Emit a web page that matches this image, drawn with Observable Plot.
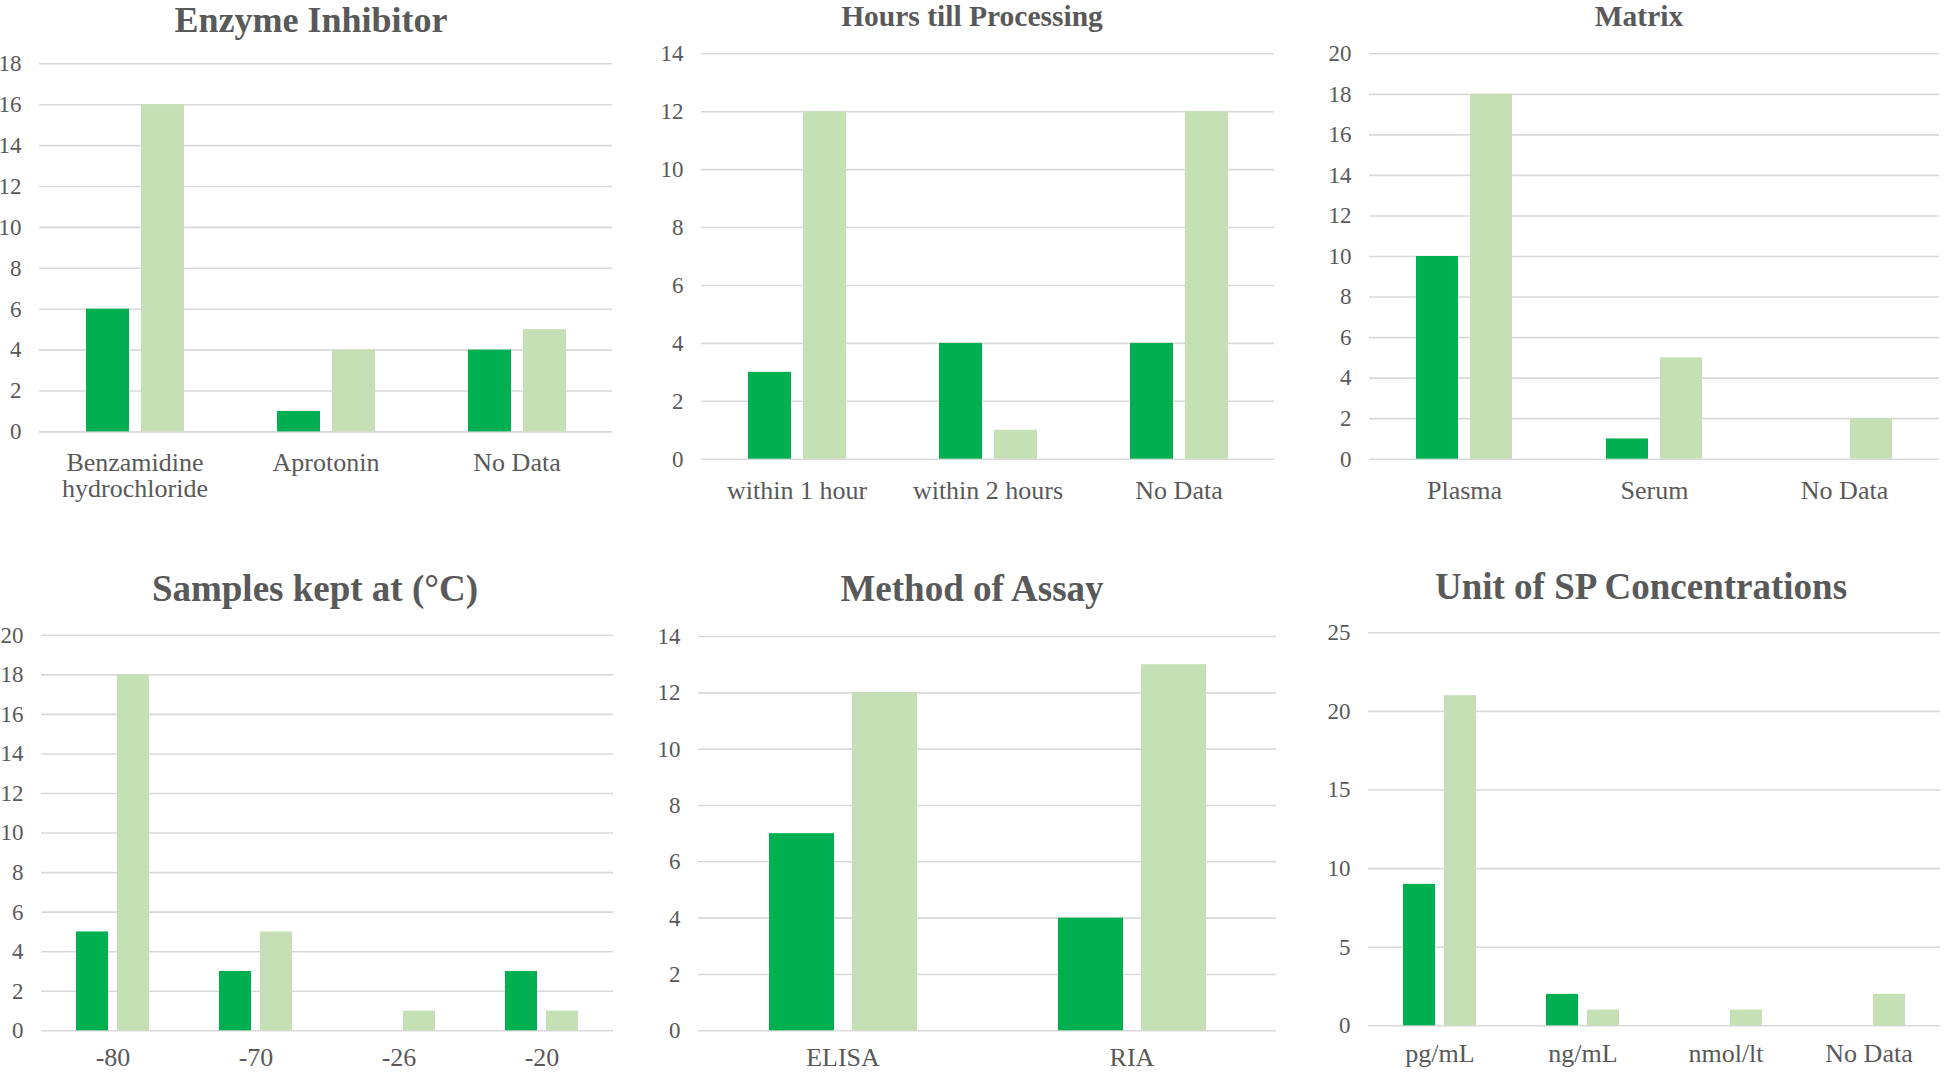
<!DOCTYPE html>
<html>
<head>
<meta charset="utf-8">
<script src="https://cdn.jsdelivr.net/npm/d3@7"></script>
<script src="https://cdn.jsdelivr.net/npm/@observablehq/plot@0.6"></script>
<style>
  html, body { margin: 0; padding: 0; background: #ffffff; }
  #root { position: relative; width: 1944px; height: 1072px; overflow: hidden; background: #ffffff; }
  .panel { position: absolute; }
  .panel svg text { font-family: "Liberation Serif", "Times New Roman", serif; }
  .title { position: absolute; width: 700px; text-align: center; font-family: "Liberation Serif", "Times New Roman", serif; font-weight: bold; color: #595959; white-space: nowrap; }
</style>
</head>
<body>
<div id="root"></div>
<script>
// ---------- Data ----------
const seriesNames = ["Series 1", "Series 2"];
const seriesColors = ["#00B050", "#C5E0B4"];

const enzymeCategories = ["Benzamidine hydrochloride", "Aprotonin", "No Data"];
const enzymeTickLabels = ["Benzamidine\nhydrochloride", "Aprotonin", "No Data"];
const enzymeSeries1 = [6, 1, 4];
const enzymeSeries2 = [16, 4, 5];
const enzymeTicks = [0, 2, 4, 6, 8, 10, 12, 14, 16, 18];

const hoursCategories = ["within 1 hour", "within 2 hours", "No Data"];
const hoursSeries1 = [3, 4, 4];
const hoursSeries2 = [12, 1, 12];
const hoursTicks = [0, 2, 4, 6, 8, 10, 12, 14];

const matrixCategories = ["Plasma", "Serum", "No Data"];
const matrixSeries1 = [10, 1, 0];
const matrixSeries2 = [18, 5, 2];
const matrixTicks = [0, 2, 4, 6, 8, 10, 12, 14, 16, 18, 20];

const tempCategories = ["-80", "-70", "-26", "-20"];
const tempSeries1 = [5, 3, 0, 3];
const tempSeries2 = [18, 5, 1, 1];
const tempTicks = [0, 2, 4, 6, 8, 10, 12, 14, 16, 18, 20];

const assayCategories = ["ELISA", "RIA"];
const assaySeries1 = [7, 4];
const assaySeries2 = [12, 13];
const assayTicks = [0, 2, 4, 6, 8, 10, 12, 14];

const unitCategories = ["pg/mL", "ng/mL", "nmol/lt", "No Data"];
const unitSeries1 = [9, 2, 0, 0];
const unitSeries2 = [21, 1, 1, 2];
const unitTicks = [0, 5, 10, 15, 20, 25];

const titles = ["Enzyme Inhibitor", "Hours till Processing", "Matrix",
                "Samples kept at (°C)", "Method of Assay", "Unit of SP Concentrations"];

// ---------- Layout ----------
const root = document.getElementById("root");
const FONT = "'Liberation Serif', 'Times New Roman', serif";

function chart(cfg) {
  const data = cfg.cats.flatMap((c, i) => [
    {category: c, series: seriesNames[0], value: cfg.s1[i]},
    {category: c, series: seriesNames[1], value: cfg.s2[i]}
  ]);
  const labels = cfg.labels || cfg.cats;
  const max = cfg.ticks[cfg.ticks.length - 1];
  const svg = Plot.plot({
    width: cfg.width,
    height: cfg.height,
    marginLeft: cfg.gridL - cfg.left,
    marginRight: cfg.left + cfg.width - cfg.gridR,
    marginTop: cfg.yTop - cfg.top,
    marginBottom: cfg.top + cfg.height - cfg.yZero,
    style: {fontFamily: FONT, color: "#595959", background: "transparent", overflow: "visible"},
    fx: {domain: cfg.cats, padding: 0, axis: null, label: null},
    x: {domain: seriesNames, paddingInner: 0.219, paddingOuter: 0.845, axis: null},
    y: {domain: [0, max], axis: null},
    color: {domain: seriesNames, range: seriesColors},
    marks: [
      Plot.ruleY(cfg.ticks, {stroke: "#D9D9D9", strokeWidth: 1.6}),
      Plot.barY(data, {fx: "category", x: "series", y: "value", fill: "series"}),
      Plot.axisY(cfg.ticks, {tickSize: 0, tickPadding: 18, fontSize: 23, fontFamily: FONT, label: null, fill: "#595959"}),
      Plot.axisFx({anchor: "bottom", tickSize: 0, tickPadding: cfg.labelPad, fontSize: 26, fontFamily: FONT, label: null, fill: "#595959",
        tickFormat: d => labels[cfg.cats.indexOf(d)]})
    ]
  });
  const wrap = document.createElement("div");
  wrap.className = "panel";
  wrap.style.left = cfg.left + "px";
  wrap.style.top = cfg.top + "px";
  wrap.appendChild(svg);
  root.appendChild(wrap);
}

function title(text, cx, baseline, size) {
  const d = document.createElement("div");
  d.className = "title";
  d.textContent = text;
  d.style.fontSize = size + "px";
  d.style.lineHeight = (0.8 * size) + "px";
  d.style.left = (cx - 350) + "px";
  d.style.top = (baseline - 0.7375 * size) + "px";
  root.appendChild(d);
}

chart({cats: enzymeCategories, labels: enzymeTickLabels, s1: enzymeSeries1, s2: enzymeSeries2, ticks: enzymeTicks,
  left: 0, top: 40, width: 620, height: 480, gridL: 39, gridR: 612, yTop: 63.3, yZero: 431.4, labelPad: 21});
chart({cats: hoursCategories, s1: hoursSeries1, s2: hoursSeries2, ticks: hoursTicks,
  left: 660, top: 30, width: 623, height: 490, gridL: 700, gridR: 1275, yTop: 53.3, yZero: 458.7, labelPad: 21});
chart({cats: matrixCategories, s1: matrixSeries1, s2: matrixSeries2, ticks: matrixTicks,
  left: 1326, top: 30, width: 618, height: 490, gridL: 1368, gridR: 1940, yTop: 53.3, yZero: 458.7, labelPad: 21});
chart({cats: tempCategories, s1: tempSeries1, s2: tempSeries2, ticks: tempTicks,
  left: 0, top: 610, width: 622, height: 462, gridL: 40, gridR: 614, yTop: 634.8, yZero: 1030.3, labelPad: 17});
chart({cats: assayCategories, s1: assaySeries1, s2: assaySeries2, ticks: assayTicks,
  left: 658, top: 610, width: 626, height: 462, gridL: 698, gridR: 1276, yTop: 636, yZero: 1030.3, labelPad: 17});
chart({cats: unitCategories, s1: unitSeries1, s2: unitSeries2, ticks: unitTicks,
  left: 1326, top: 605, width: 618, height: 467, gridL: 1368, gridR: 1940, yTop: 632.3, yZero: 1025.3, labelPad: 18});

title(titles[0], 311, 33, 36);
title(titles[1], 972, 27, 29.5);
title(titles[2], 1639, 27, 29.5);
title(titles[3], 315, 601, 37);
title(titles[4], 972, 601, 37);
title(titles[5], 1641, 599, 37);
</script>
</body>
</html>
